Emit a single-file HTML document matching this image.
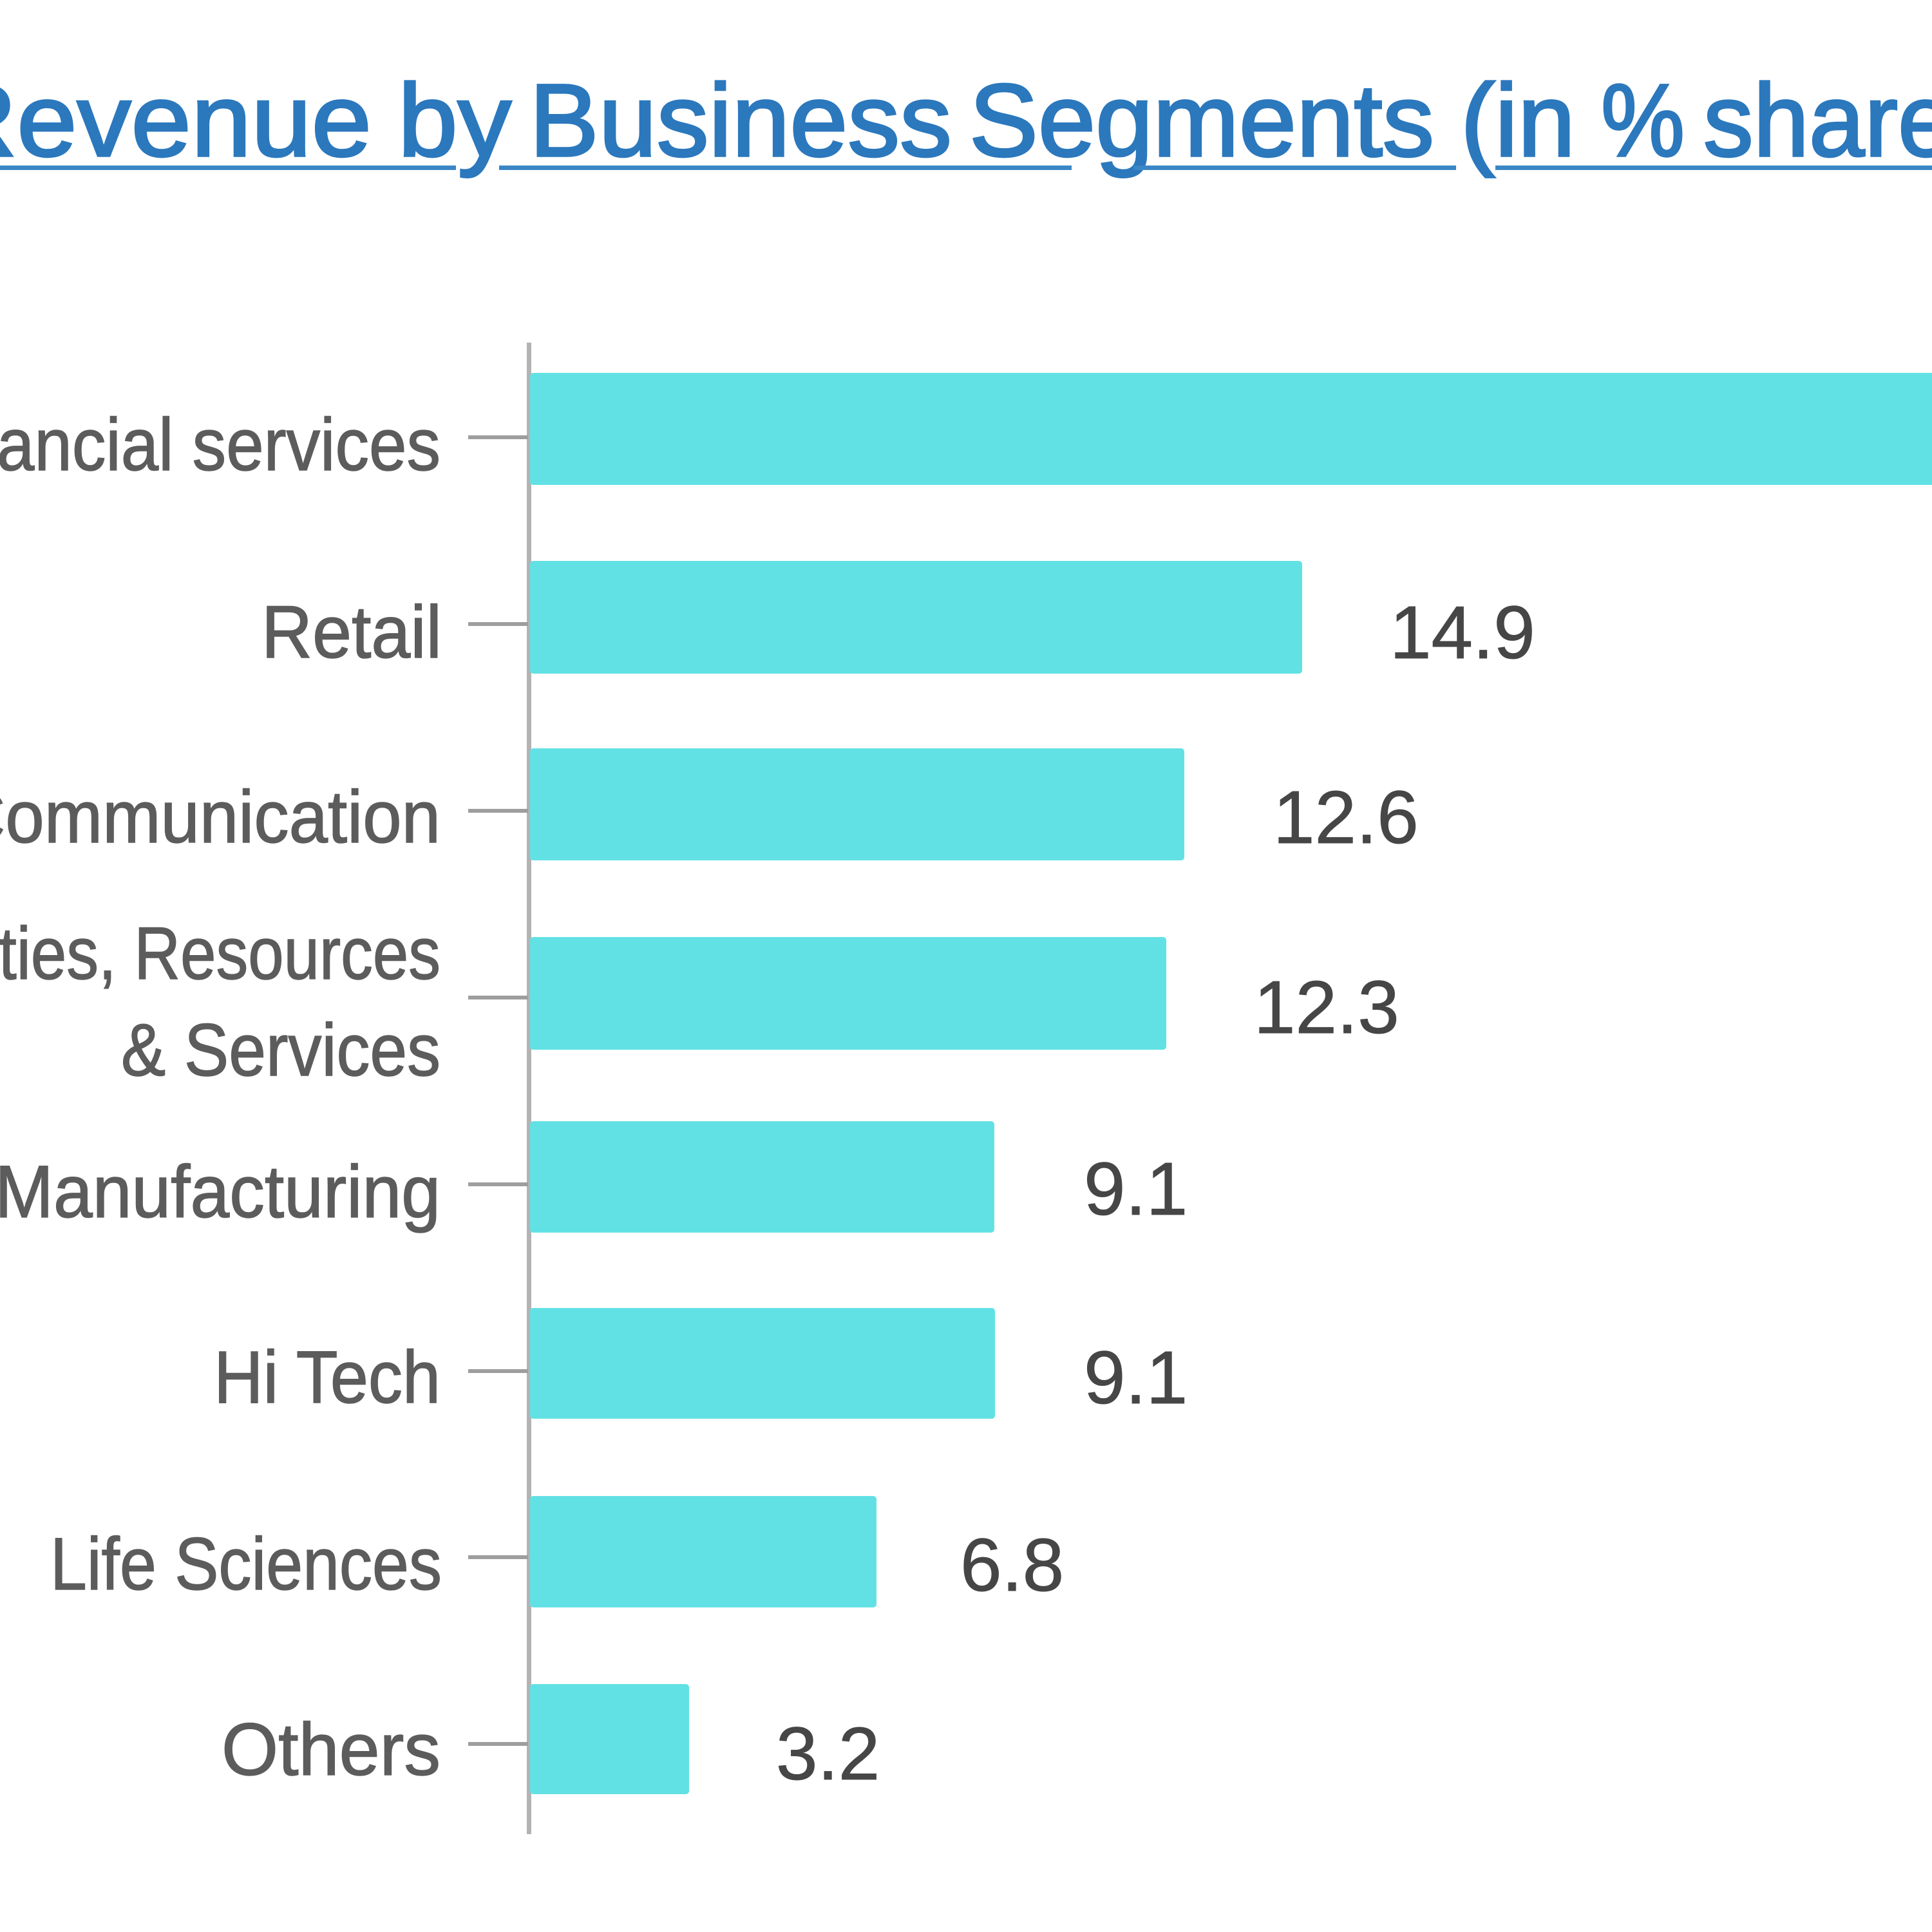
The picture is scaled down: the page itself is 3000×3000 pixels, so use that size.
<!DOCTYPE html>
<html>
<head>
<meta charset="utf-8">
<style>
  html, body { margin: 0; padding: 0; background: #ffffff; }
  body { width: 3000px; height: 3000px; overflow: hidden; }
  svg { display: block; }
  .t { font-family: "Liberation Sans", Arial, sans-serif; }
</style>
</head>
<body>
<svg width="3000" height="3000" viewBox="0 0 3000 3000" xmlns="http://www.w3.org/2000/svg">
  <rect x="0" y="0" width="3000" height="3000" fill="#ffffff"/>

  <!-- Title -->
  <g class="t" font-size="160" fill="#2b78bd" stroke="#2b78bd" stroke-width="3.5">
    <text x="-95" y="242" textLength="672" lengthAdjust="spacingAndGlyphs">Revenue</text>
    <text x="618" y="242" textLength="176" lengthAdjust="spacingAndGlyphs">by</text>
    <text x="822" y="242" textLength="656" lengthAdjust="spacingAndGlyphs">Business</text>
    <text x="1505" y="242" textLength="722" lengthAdjust="spacingAndGlyphs">Segments</text>
    <text x="2268" y="242" textLength="178" lengthAdjust="spacingAndGlyphs">(in</text>
    <text x="2486" y="242" textLength="130" lengthAdjust="spacingAndGlyphs">%</text>
    <text x="2645" y="242" textLength="440" lengthAdjust="spacingAndGlyphs">share)</text>
  </g>
  <!-- Title underline (with ink-skip gaps) -->
  <g fill="#3a86c6">
    <rect x="0" y="257" width="708" height="7"/>
    <rect x="775" y="257" width="889" height="7"/>
    <rect x="1760" y="257" width="501" height="7"/>
    <rect x="2322" y="257" width="678" height="7"/>
  </g>

  <!-- Axis line -->
  <rect x="818" y="532" width="7" height="2316" fill="#b3b3b3"/>

  <!-- Ticks -->
  <g fill="#9e9e9e">
    <rect x="727" y="676" width="93" height="6"/>
    <rect x="727" y="966" width="93" height="6"/>
    <rect x="727" y="1256" width="93" height="6"/>
    <rect x="727" y="1546" width="93" height="6"/>
    <rect x="727" y="1836" width="93" height="6"/>
    <rect x="727" y="2126" width="93" height="6"/>
    <rect x="727" y="2415" width="93" height="6"/>
    <rect x="727" y="2705" width="93" height="6"/>
  </g>

  <!-- Bars -->
  <g fill="#62e1e5">
    <rect x="823" y="579" width="2250" height="174" rx="5"/>
    <rect x="823" y="871" width="1199" height="175" rx="5"/>
    <rect x="823" y="1162" width="1016" height="174" rx="5"/>
    <rect x="823" y="1455" width="988" height="175" rx="5"/>
    <rect x="823" y="1741" width="721" height="173" rx="5"/>
    <rect x="823" y="2031" width="722" height="172" rx="5"/>
    <rect x="823" y="2323" width="538" height="173" rx="5"/>
    <rect x="823" y="2615" width="247" height="171" rx="5"/>
  </g>

  <!-- Category labels -->
  <g class="t" font-size="115" fill="#5c5c5c" stroke="#5c5c5c" stroke-width="1.5" text-anchor="end">
    <text x="684" y="730" textLength="835" lengthAdjust="spacingAndGlyphs">Financial services</text>
    <text x="686" y="1021" textLength="280" lengthAdjust="spacingAndGlyphs">Retail</text>
    <text x="684" y="1308" textLength="754" lengthAdjust="spacingAndGlyphs">Communication</text>
    <text x="684" y="1520" textLength="1215" lengthAdjust="spacingAndGlyphs">Energy, Utilities, Resources</text>
    <text x="684" y="1670" textLength="496" lengthAdjust="spacingAndGlyphs">&amp; Services</text>
    <text x="684" y="1890" textLength="692" lengthAdjust="spacingAndGlyphs">Manufacturing</text>
    <text x="684" y="2178" textLength="352" lengthAdjust="spacingAndGlyphs">Hi Tech</text>
    <text x="686" y="2468" textLength="608" lengthAdjust="spacingAndGlyphs">Life Sciences</text>
    <text x="684" y="2756" textLength="340" lengthAdjust="spacingAndGlyphs">Others</text>
  </g>

  <!-- Value labels -->
  <g class="t" font-size="116" fill="#464646" stroke="#464646" stroke-width="1">
    <text x="2158" y="1022">14.9</text>
    <text x="1977" y="1309">12.6</text>
    <text x="1947" y="1604">12.3</text>
    <text x="1683" y="1886">9.1</text>
    <text x="1683" y="2179">9.1</text>
    <text x="1491" y="2470">6.8</text>
    <text x="1205" y="2763">3.2</text>
  </g>
</svg>
</body>
</html>
